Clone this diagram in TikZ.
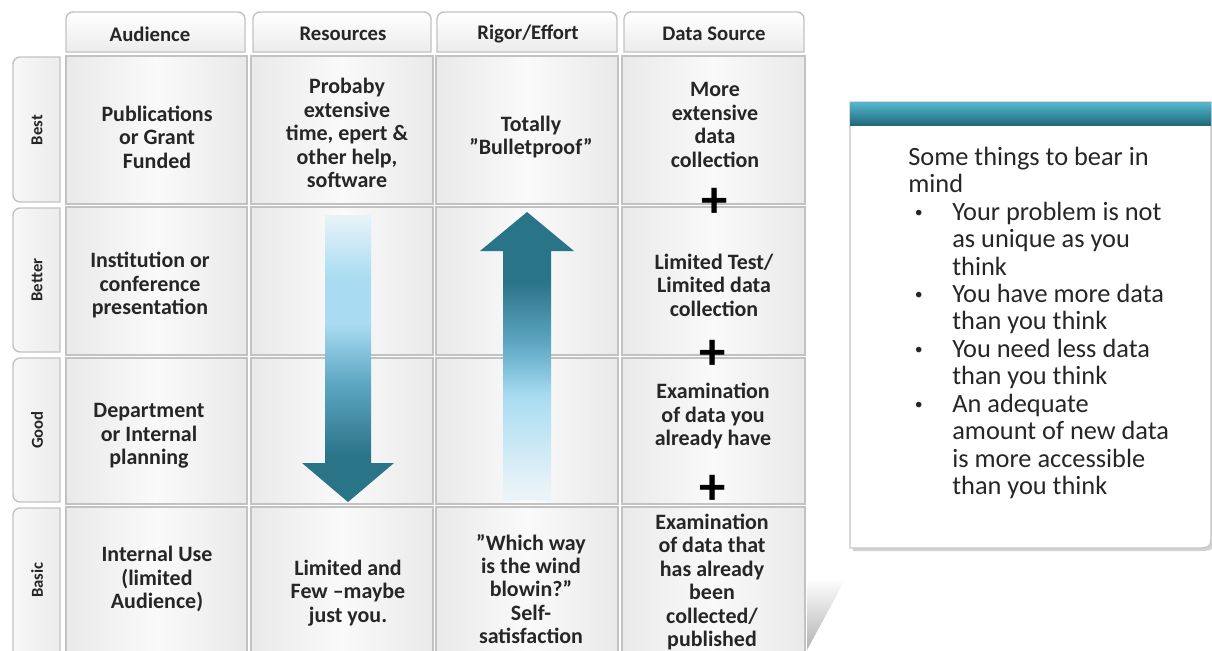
\documentclass[tikz,border=0pt]{standalone}
\usepackage{fontspec}
\setmainfont{Carlito}
\usepackage{array}
\usetikzlibrary{shadings}

\definecolor{tealdark}{HTML}{2A7488}
\definecolor{tealmid}{HTML}{5FA8C4}
\definecolor{skyblue}{HTML}{A9DCF2}
\definecolor{skypale}{HTML}{E8F3F8}
\definecolor{barlight}{HTML}{55B8CE}
\definecolor{bardark}{HTML}{21697B}
\definecolor{cellline}{HTML}{C2C2C2}

\pgfdeclareverticalshading{downfade}{100bp}{color(0bp)=(tealdark); color(33bp)=(tealdark); color(46bp)=(tealmid); color(56bp)=(skyblue); color(64bp)=(skyblue); color(75bp)=(skypale); color(100bp)=(skypale)}
\pgfdeclareverticalshading{upfade}{100bp}{color(0bp)=(white); color(27bp)=(skypale); color(43bp)=(skyblue); color(52bp)=(tealmid); color(63bp)=(tealdark); color(100bp)=(tealdark)}

\newcommand{\smalldot}{\raisebox{0.25ex}{\fontsize{9}{9}\selectfont\textbullet}}

\tikzset{
  cell/.style={draw=cellline, line width=1pt, left color=gray!17, right color=gray!17, middle color=gray!4},
  headcell/.style={draw=cellline, line width=0.8pt, top color=white, bottom color=gray!15},
  sidetab/.style={draw=cellline, line width=0.8pt, left color=gray!6, right color=gray!15},
  celltext/.style={font=\fontsize{12.5}{13.3}\selectfont\bfseries, align=center, text=black!85, inner sep=0pt},
  headtext/.style={font=\fontsize{11.8}{12}\selectfont\bfseries, text=black!85},
  sidetext/.style={font=\fontsize{9.5}{10}\selectfont\bfseries, text=black!85, rotate=90},
  plussign/.style={font=\fontsize{30}{30}\selectfont\bfseries, inner sep=0pt},
}

\begin{document}
\begin{tikzpicture}[x=0.02cm, y=-0.02cm]

    \useasboundingbox (0,0) rectangle (1212,650);
    \clip (0,0) rectangle (1212,650);

    % Column headers
    \draw[headcell] (66,52) [rounded corners=4pt]-- (66,12) -- (245,12) [sharp corners]-- (245,52) -- cycle;
    \draw[headcell] (253,52) [rounded corners=4pt]-- (253,12) -- (431,12) [sharp corners]-- (431,52) -- cycle;
    \draw[headcell] (437,52) [rounded corners=4pt]-- (437,12) -- (617,12) [sharp corners]-- (617,52) -- cycle;
    \draw[headcell] (624,52) [rounded corners=4pt]-- (624,12) -- (804,12) [sharp corners]-- (804,52) -- cycle;
    \node[headtext] (h-aud) at (150,34) {Audience};
    \node[headtext] (h-res) at (343,34) {Resources};
    \node[headtext] (h-rig) at (528,34) {Rigor/Effort};
    \node[headtext] (h-dat) at (714,34) {Data Source};

    % Row tabs
    \draw[sidetab] (60,57) [rounded corners=4pt]-- (13,57) -- (13,202) [sharp corners]-- (60,202) -- cycle;
    \draw[sidetab] (60,208) [rounded corners=4pt]-- (13,208) -- (13,352) [sharp corners]-- (60,352) -- cycle;
    \draw[sidetab] (60,358) [rounded corners=4pt]-- (13,358) -- (13,502) [sharp corners]-- (60,502) -- cycle;
    \draw[sidetab] (60,508) [rounded corners=4pt]-- (13,508) -- (13,662) [sharp corners]-- (60,662) -- cycle;
    \node[sidetext] (r-best) at (37,130) {Best};
    \node[sidetext] (r-better) at (37,280) {Better};
    \node[sidetext] (r-good) at (37,430) {Good};
    \node[sidetext] (r-basic) at (37,580) {Basic};

    % The grid of cells
    \foreach \xa/\xb in {66/247, 251/433, 436/618, 622/805}
        \foreach \ya/\yb in {56/204, 207/355, 358/504, 507/662}
            \draw[cell] (\xa,\ya) rectangle (\xb,\yb);

    % Block arrows
    \shade[shading=downfade] (325,215) -- (371,215) -- (371,463) -- (394,463) -- (348,502) -- (302,463) -- (325,463) -- cycle;
    \shade[shading=upfade] (503,500) -- (503,251) -- (480,251) -- (527,212) -- (574,251) -- (551,251) -- (551,500) -- cycle;

    % Audience
    \node[celltext] (aud-best) at (157,137) {Publications\\or Grant\\Funded};
    \node[celltext] (aud-better) at (150,285) {Institution or\\conference\\presentation};
    \node[celltext] (aud-good) at (149,436) {Department\\or Internal\\planning};
    \node[celltext] (aud-basic) at (157,579) {Internal Use\\(limited\\Audience)};

    % Resources
    \node[celltext] (res-best) at (347,133) {Probaby\\extensive\\time, epert \&\\other help,\\software};
    \node[celltext] (res-basic) at (348,593) {Limited and\\Few –maybe\\just you.};

    % Rigor/Effort
    \node[celltext] (rig-best) at (531,137) {Totally\\”Bulletproof”};
    \node[celltext] (rig-basic) at (531,589) {”Which way\\is the wind\\blowin?”\\Self-\\satisfaction};

    % Data Source
    \node[celltext] (dat-best) at (715,125) {More\\extensive\\data\\collection};
    \node[celltext] (dat-better) at (714,285) {Limited Test/\\Limited data\\collection};
    \node[celltext] (dat-good) at (713,416) {Examination\\of data you\\already have};
    \node[celltext] (dat-basic) at (712,582) {Examination\\of data that\\has already\\been\\collected/\\published};
    \node[plussign] (plus-a) at (715,203) {+};
    \node[plussign] (plus-b) at (713,355) {+};
    \node[plussign] (plus-c) at (713,490) {+};

    % Callout with its tail
    \shade[top color=white, bottom color=gray!60] (807,578) -- (846,578) -- (807,650) -- cycle;
    \fill[gray!35] (853,105) -- (1214,105) -- (1214,533) .. controls (1214,551) .. (1196,551) -- (853,551) -- cycle;
    \draw[fill=white, draw=gray!45, line width=0.6pt] (850,102) -- (1211,102) -- (1211,530) .. controls (1211,548) .. (1193,548) -- (850,548) -- cycle;
    \shade[top color=barlight, bottom color=bardark] (850,102) rectangle (1211,125);
    \node[anchor=north west, inner sep=0pt, font=\fontsize{15}{15.6}\selectfont, text=black!85] (bearnote) at (908,146) {%
        \begin{tabular}{@{\hspace{1.3mm}}p{7.5mm}@{}l@{}}
        \multicolumn{2}{@{}l@{}}{Some things to bear in}\\
        \multicolumn{2}{@{}l@{}}{mind}\\
        \smalldot & Your problem is not\\
         & as unique as you\\
         & think\\
        \smalldot & You have more data\\
         & than you think\\
        \smalldot & You need less data\\
         & than you think\\
        \smalldot & An adequate\\
         & amount of new data\\
         & is more accessible\\
         & than you think
        \end{tabular}};

\end{tikzpicture}
\end{document}
